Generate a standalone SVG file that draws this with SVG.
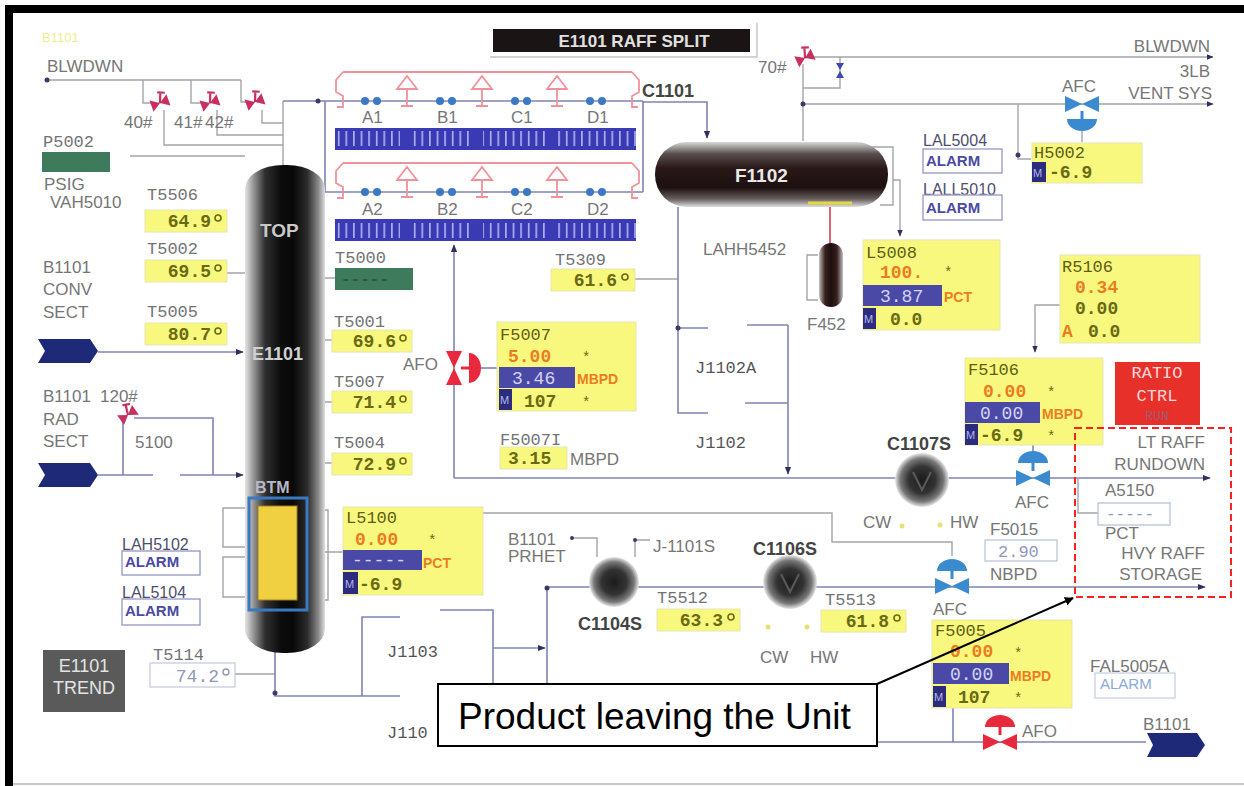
<svg xmlns="http://www.w3.org/2000/svg" width="1244" height="786" viewBox="0 0 1244 786">
<defs>
<style>
.ln{stroke:#7f84b4;stroke-width:1.6;fill:none}
.gl{stroke:#a4a4aa;stroke-width:1.4;fill:none}
.pk{stroke:#f0929c;stroke-width:1.8;fill:none}
.lbl{font-family:"Liberation Sans",Arial,sans-serif;font-size:17px;fill:#767676}
.tag{font-family:"Liberation Mono","Courier New",monospace;font-size:17px;fill:#737373}
.tg2{font-family:"Liberation Mono","Courier New",monospace;font-size:17px;fill:#5e5e14}
.val{font-family:"Liberation Mono","Courier New",monospace;font-size:18px;font-weight:bold;fill:#6a6a14}
.ov{font-family:"Liberation Mono","Courier New",monospace;font-size:18px;font-weight:bold;fill:#ec7c22}
.bv{font-family:"Liberation Mono","Courier New",monospace;font-size:18px;fill:#d4d4f4}
.un{font-family:"Liberation Sans",Arial,sans-serif;font-size:14px;font-weight:bold;fill:#ec7c22}
.st{font-family:"Liberation Mono",monospace;font-size:14px;fill:#6a6a14}
.yb{fill:#f8f87e;stroke:#e6e6b4;stroke-width:1}
.nb{fill:#4a4aa6}
.mb{fill:#2c2c7e}
.mt{font-family:"Liberation Sans",Arial,sans-serif;font-size:11px;fill:#b4b4ec}
.al{fill:#fff;stroke:#9c9cc8;stroke-width:1.4}
.alt{font-family:"Liberation Sans",Arial,sans-serif;font-size:15px;font-weight:bold;fill:#4a4aa4}
.atg{font-family:"Liberation Sans",Arial,sans-serif;font-size:16px;fill:#4e4e6e}
.dg{fill:none;stroke:#6a6a14;stroke-width:1.6}
.mot{fill:#3c78c4}
.nm{font-family:"Liberation Sans",Arial,sans-serif;font-size:18px;font-weight:bold;fill:#444}
.chev{fill:#1e2a78}
.dot{fill:#3a3a6a}
</style>
<linearGradient id="tw" x1="0" y1="0" x2="1" y2="0">
<stop offset="0" stop-color="#e6e6e6"/><stop offset="0.1" stop-color="#9a9a9a"/><stop offset="0.25" stop-color="#303030"/><stop offset="0.45" stop-color="#0c0c0c"/><stop offset="0.6" stop-color="#080808"/><stop offset="0.78" stop-color="#2c2c2c"/><stop offset="0.92" stop-color="#8c8c8c"/><stop offset="1" stop-color="#e0e0e0"/>
</linearGradient>
<linearGradient id="vs" x1="0" y1="0" x2="0" y2="1">
<stop offset="0" stop-color="#d8d8d8"/><stop offset="0.18" stop-color="#5a5050"/><stop offset="0.4" stop-color="#2a1818"/><stop offset="0.7" stop-color="#1c1010"/><stop offset="0.88" stop-color="#6a6060"/><stop offset="1" stop-color="#e0e0e0"/>
</linearGradient>
<linearGradient id="vs2" x1="0" y1="0" x2="1" y2="0">
<stop offset="0" stop-color="#c0c0c0"/><stop offset="0.25" stop-color="#3a2020"/><stop offset="0.5" stop-color="#1c0e0e"/><stop offset="0.75" stop-color="#3a2020"/><stop offset="1" stop-color="#c0c0c0"/>
</linearGradient>
<radialGradient id="cr" cx="0.5" cy="0.5" r="0.5">
<stop offset="0" stop-color="#1c1c1c"/><stop offset="0.5" stop-color="#333"/><stop offset="0.8" stop-color="#777"/><stop offset="1" stop-color="#e8e8e8"/>
</radialGradient>
<pattern id="tk" patternUnits="userSpaceOnUse" x="335" y="0" width="7.6" height="92">
<rect width="7.6" height="92" fill="#3a3ab4"/><rect x="3" y="39" width="1.4" height="15" fill="#c4c4ff"/>
</pattern>
<marker id="ar" viewBox="0 0 10 10" refX="9" refY="5" markerWidth="5" markerHeight="5" orient="auto"><path d="M0,1 L10,5 L0,9 Z" fill="#303060"/></marker>
<marker id="cb" viewBox="0 0 10 10" refX="9" refY="5" markerWidth="9" markerHeight="9" markerUnits="userSpaceOnUse" orient="auto"><path d="M0,0 L10,5 L0,10 Z" fill="#000"/></marker>
<g id="hv"><path d="M-9,-6 L9,6 L9,-6 L-9,6 Z" fill="#c8305e"/><path d="M0,0 L4,-10 M1,-11 L8,-8" stroke="#c8305e" stroke-width="2.2" fill="none"/></g>
<g id="cv"><path d="M-17,-8 L17,8 L17,-8 L-17,8 Z"/><rect x="-1.5" y="-16" width="3" height="9"/><path d="M-15,-15 A15,12 0 0 1 15,-15 Z"/></g>
</defs>

<g id="frame">
<rect x="0" y="0" width="1244" height="786" fill="#fff"/>
<rect x="5" y="5" width="1239" height="8" fill="#000"/>
<rect x="5" y="5" width="8" height="781" fill="#000"/>
<line x1="13" y1="784" x2="1244" y2="784" stroke="#c8c8c8" stroke-width="2"/>
</g>

<g id="connectors">
<path class="gl" d="M47,80 H241 M143,80 V103 H151 M191,80 V103 H201 M241,80 V102 H246 M164,110 V145 H283 M217,110 V135 H283 M262,110 V123 H283 M283,101 V166 M130,156 H245"/>
<path class="ln" d="M283,101 H643 M325,101 V192 H643 M643,101 V192 M643,102 H707 V138" marker-end="url(#ar)"/>
<path class="gl" d="M813,57 H1213" marker-end="url(#ar)"/>
<path class="gl" d="M803,104 H1213" marker-end="url(#ar)"/>
<path class="gl" d="M803,141 V64 M803,88 H840 V57"/>
<path class="gl" d="M870,147 H893 V205 H880"/>
<path class="gl" d="M893,180 H900 V236" marker-end="url(#ar)"/>
<path class="gl" d="M818,255 H807 V300 H818"/>
<path d="M830,207 V244" stroke="#d04050" stroke-width="1.6"/>
<path class="gl" d="M1018,104 V159 H1031 M1082,130 V142"/>
<path class="ln" d="M98,352 H243" marker-end="url(#ar)"/>
<path class="ln" d="M98,475 H153 M123,475 V422 M134,418 H213 V475"/>
<path class="ln" d="M180,475 H243" marker-end="url(#ar)"/>
<path class="gl" d="M227,273 H245 M325,278 H335 M325,340 H332 M325,402 H332 M325,463 H332 M235,674 H275 M635,279 H678"/>
<path class="ln" d="M454,478 V245" marker-end="url(#ar)"/>
<path class="ln" d="M497,368 H471" marker-end="url(#ar)"/>
<path class="ln" d="M454,478 H1210" marker-end="url(#ar)"/>
<path class="ln" d="M678,207 V413 H708 M678,328 H708 M747,325 H788 M745,403 H788"/>
<path class="ln" d="M788,325 V474" marker-end="url(#ar)"/>
<path class="gl" d="M1060,305 H1035 V352" marker-end="url(#ar)"/>
<path class="ln" d="M1033,445 V452"/>
<path class="gl" d="M1078,479 V513 H1098"/>
<path class="gl" d="M307,510 H328 V600 H307 M307,529 H318 M307,552 H343 M307,575 H318 M248,508 H223 V547 H248 M248,557 H223 V597 H248"/>
<path class="ln" d="M275,652 V696 H400 M362,696 V617 H400 M440,610 H493 V690"/>
<path class="ln" d="M493,648 H545" marker-end="url(#ar)"/>
<path class="ln" d="M547,588 V742 H1146 M547,587 H1205" marker-end="url(#ar)"/>
<path class="gl" d="M483,513 H832 V542 H952 V556"/>
<path class="gl" d="M572,538 H597 V557 M650,540 H635 V557"/>
<path class="ln" d="M953,708 V742"/>
<circle class="dot" cx="47" cy="80" r="2.5"/>
<circle class="dot" cx="318" cy="101" r="2.5"/>
<circle class="dot" cx="803" cy="104" r="2.5"/>
<circle class="dot" cx="1018" cy="155" r="2.5"/>
<circle class="dot" cx="678" cy="328" r="2.5"/>
<circle class="dot" cx="275" cy="693" r="2.5"/>
<circle class="dot" cx="547" cy="588" r="2.5"/>
<circle class="dot" cx="572" cy="538" r="2"/>
<circle class="dot" cx="635" cy="540" r="2"/>
</g>

<g id="title">
<path d="M490,57 H757 V23" fill="none" stroke="#c4c4c4" stroke-width="1.4"/>
<rect x="493" y="29" width="257" height="23" fill="#1a1414"/>
<text x="634" y="47" text-anchor="middle" font-family="Liberation Sans,Arial,sans-serif" font-size="17" font-weight="bold" fill="#e0e0e0">E1101 RAFF SPLIT</text>
</g>

<g id="blowdown-left">
<text x="42" y="42" font-family="Liberation Sans,Arial,sans-serif" font-size="13" fill="#f0ec90">B1101</text>
<text x="47" y="72" class="lbl" font-size="18">BLWDWN</text>
<use href="#hv" transform="translate(160,103) rotate(-20)"/>
<use href="#hv" transform="translate(210,103) rotate(-20)"/>
<use href="#hv" transform="translate(255,102) rotate(-20)"/>
<text x="124" y="128" class="lbl" font-size="15">40#</text>
<text x="174" y="128" class="lbl" font-size="15">41#</text>
<text x="205" y="128" class="lbl" font-size="15">42#</text>
</g>

<g id="P5002">
<text x="43" y="147" class="tag">P5002</text>
<rect x="42" y="152" width="68" height="20" fill="#3e7a5c"/>
<text x="44" y="190" class="lbl" font-size="16">PSIG</text>
<text x="50" y="208" class="lbl" font-size="16">VAH5010</text>
</g>

<g id="E1101-fans">
<path class="pk" d="M343,72 H632 M343,72 L336,80 V92 L343,96 V107 H337 M632,72 L639,80 V92 L632,96 V107 H638 M397,89 L407,76 L417,89 Z M407,89 V106 M401,106 H413 M472,89 L482,76 L492,89 Z M482,89 V106 M476,106 H488 M547,89 L557,76 L567,89 Z M557,89 V106 M551,106 H563"/>
<path class="pk" d="M343,163 H632 M343,163 L336,171 V183 L343,187 V198 H337 M632,163 L639,171 V183 L632,187 V198 H638 M397,180 L407,167 L417,180 Z M407,180 V197 M401,197 H413 M472,180 L482,167 L492,180 Z M482,180 V197 M476,197 H488 M547,180 L557,167 L567,180 Z M557,180 V197 M551,197 H563"/>
<g class="mot">
<circle cx="365" cy="101" r="4"/><circle cx="377" cy="101" r="4"/>
<circle cx="440" cy="101" r="4"/><circle cx="452" cy="101" r="4"/>
<circle cx="515" cy="101" r="4"/><circle cx="527" cy="101" r="4"/>
<circle cx="590" cy="101" r="4"/><circle cx="602" cy="101" r="4"/>
<circle cx="365" cy="192" r="4"/><circle cx="377" cy="192" r="4"/>
<circle cx="440" cy="192" r="4"/><circle cx="452" cy="192" r="4"/>
<circle cx="515" cy="192" r="4"/><circle cx="527" cy="192" r="4"/>
<circle cx="590" cy="192" r="4"/><circle cx="602" cy="192" r="4"/>
</g>
<g class="lbl">
<text x="362" y="123">A1</text><text x="437" y="123">B1</text><text x="511" y="123">C1</text><text x="587" y="123">D1</text>
<text x="362" y="215">A2</text><text x="437" y="215">B2</text><text x="511" y="215">C2</text><text x="587" y="215">D2</text>
</g>
<rect x="335" y="128" width="301" height="22" fill="url(#tk)"/>
<rect x="335" y="219" width="301" height="22" fill="url(#tk)"/>
<g fill="#3a3ab4">
<rect x="400" y="130" width="9" height="18"/><rect x="474" y="130" width="9" height="18"/><rect x="548" y="130" width="9" height="18"/>
<rect x="400" y="221" width="9" height="18"/><rect x="474" y="221" width="9" height="18"/><rect x="548" y="221" width="9" height="18"/>
</g>
<text x="642" y="97" class="nm">C1101</text>
</g>

<g id="E1101">
<rect x="245" y="165" width="80" height="488" rx="38" ry="24" fill="url(#tw)"/>
<text x="260" y="237" font-family="Liberation Sans,Arial,sans-serif" font-size="19" font-weight="bold" fill="#c8c8c8">TOP</text>
<text x="252" y="360" font-family="Liberation Sans,Arial,sans-serif" font-size="18" font-weight="bold" fill="#d0d0d0">E1101</text>
<text x="255" y="493" font-family="Liberation Sans,Arial,sans-serif" font-size="16" font-weight="bold" fill="#b8b8c8">BTM</text>
<rect x="249" y="498" width="58" height="112" fill="none" stroke="#3a78c0" stroke-width="3"/>
<rect x="258" y="506" width="39" height="94" fill="#f0d040" stroke="#a08020" stroke-width="1"/>
</g>

<g id="feeds">
<polygon class="chev" points="38,339 90,339 98,351 90,363 38,363 45,351"/>
<polygon class="chev" points="38,463 90,463 98,475 90,487 38,487 45,475"/>
<g class="lbl">
<text x="43" y="273">B1101</text><text x="43" y="295">CONV</text><text x="43" y="318">SECT</text>
<text x="43" y="402">B1101</text><text x="100" y="402">120#</text><text x="43" y="425">RAD</text><text x="43" y="447">SECT</text>
<text x="135" y="448">5100</text>
</g>
<use href="#hv" transform="translate(128,415) rotate(-35)"/>
</g>

<g id="T5506"><text x="147" y="200" class="tag">T5506</text><rect class="yb" x="145" y="210" width="82" height="22"/><text x="211" y="227" class="val" text-anchor="end">64.9</text><circle class="dg" cx="218" cy="218" r="3"/></g>
<g id="T5002"><text x="147" y="254" class="tag">T5002</text><rect class="yb" x="145" y="260" width="82" height="22"/><text x="211" y="277" class="val" text-anchor="end">69.5</text><circle class="dg" cx="218" cy="268" r="3"/></g>
<g id="T5005"><text x="147" y="317" class="tag">T5005</text><rect class="yb" x="145" y="323" width="82" height="22"/><text x="211" y="340" class="val" text-anchor="end">80.7</text><circle class="dg" cx="218" cy="331" r="3"/></g>
<g id="T5000"><text x="335" y="263" class="tag">T5000</text><rect x="335" y="268" width="78" height="22" fill="#3e7a5c"/><text x="341" y="284" font-family="Liberation Mono,monospace" font-size="16" font-weight="bold" fill="#2a5a40">-----</text></g>
<g id="T5001"><text x="334" y="327" class="tag">T5001</text><rect class="yb" x="332" y="330" width="80" height="22"/><text x="396" y="347" class="val" text-anchor="end">69.6</text><circle class="dg" cx="403" cy="338" r="3"/></g>
<g id="T5007"><text x="334" y="387" class="tag">T5007</text><rect class="yb" x="332" y="391" width="80" height="22"/><text x="396" y="408" class="val" text-anchor="end">71.4</text><circle class="dg" cx="403" cy="399" r="3"/></g>
<g id="T5004"><text x="334" y="448" class="tag">T5004</text><rect class="yb" x="332" y="453" width="80" height="22"/><text x="396" y="470" class="val" text-anchor="end">72.9</text><circle class="dg" cx="403" cy="461" r="3"/></g>
<g id="T5309"><text x="555" y="265" class="tag">T5309</text><rect class="yb" x="551" y="269" width="84" height="22"/><text x="617" y="286" class="val" text-anchor="end">61.6</text><circle class="dg" cx="625" cy="277" r="3"/></g>
<g id="T5512"><text x="657" y="603" class="tag">T5512</text><rect class="yb" x="657" y="609" width="83" height="22"/><text x="723" y="626" class="val" text-anchor="end">63.3</text><circle class="dg" cx="731" cy="617" r="3"/></g>
<g id="T5513"><text x="825" y="605" class="tag">T5513</text><rect class="yb" x="821" y="610" width="85" height="22"/><text x="889" y="627" class="val" text-anchor="end">61.8</text><circle class="dg" cx="897" cy="618" r="3"/></g>
<g id="T5114"><text x="153" y="660" class="tag">T5114</text><rect x="150" y="663" width="85" height="24" fill="#fff" stroke="#c4c8dc" stroke-width="1.2"/><text x="219" y="682" class="val" text-anchor="end" style="fill:#9098b8;font-weight:normal">74.2</text><circle cx="226" cy="672" r="3" fill="none" stroke="#9098b8" stroke-width="1.4"/></g>

<g id="AFO-F5007">
<use href="#cv" transform="translate(454,368) rotate(90)" fill="#e8283c"/>
<text x="403" y="370" class="lbl">AFO</text>
</g>

<g id="F5007">
<rect class="yb" x="497" y="322" width="139" height="89"/>
<text x="500" y="340" class="tg2">F5007</text>
<text x="508" y="362" class="ov">5.00</text><text x="582" y="362" class="st">*</text>
<rect class="nb" x="499" y="367" width="76" height="21"/><text x="512" y="384" class="bv">3.46</text><text x="577" y="384" class="un">MBPD</text>
<rect class="mb" x="499" y="389" width="13" height="21"/><text x="500" y="404" class="mt">M</text>
<text x="524" y="407" class="val">107</text><text x="582" y="407" class="st">*</text>
</g>

<g id="F5007I">
<text x="500" y="445" class="tag">F5007I</text>
<rect class="yb" x="500" y="447" width="67" height="22"/>
<text x="508" y="464" class="val">3.15</text>
<text x="570" y="465" class="lbl" font-size="15">MBPD</text>
</g>

<g id="F1102">
<rect x="655" y="142" width="233" height="65" rx="32" fill="url(#vs)"/>
<text x="735" y="182" font-family="Liberation Sans,Arial,sans-serif" font-size="19" font-weight="bold" fill="#e8e8e8">F1102</text>
<line x1="808" y1="203" x2="852" y2="203" stroke="#e4d840" stroke-width="3"/>
</g>

<g id="vent-top">
<use href="#hv" transform="translate(805,58) rotate(-25)"/>
<text x="758" y="73" class="lbl">70#</text>
<path d="M836,63 L844,63 L840,70 Z M836,78 L844,78 L840,71 Z" fill="#3a4ab0"/>
<text x="1210" y="52" class="lbl" text-anchor="end">BLWDWN</text>
<text x="1210" y="77" class="lbl" text-anchor="end">3LB</text>
<text x="1212" y="99" class="lbl" text-anchor="end">VENT SYS</text>
<text x="1062" y="92" class="lbl">AFC</text>
<use href="#cv" transform="translate(1082,104) scale(1,-1)" fill="#3a8ad0"/>
</g>

<g id="F452">
<text x="703" y="255" class="lbl">LAHH5452</text>
<rect x="819" y="243" width="24" height="64" rx="12" fill="url(#vs2)"/>
<text x="807" y="330" class="lbl">F452</text>
</g>

<g id="L5008">
<rect class="yb" x="863" y="240" width="137" height="90"/>
<text x="866" y="258" class="tg2">L5008</text>
<text x="880" y="278" class="ov">100.</text><text x="944" y="277" class="st">*</text>
<rect class="nb" x="863" y="285" width="79" height="21"/><text x="880" y="302" class="bv">3.87</text><text x="944" y="302" class="un">PCT</text>
<rect class="mb" x="863" y="308" width="13" height="21"/><text x="864" y="323" class="mt">M</text>
<text x="890" y="325" class="val">0.0</text>
</g>

<g id="alarms-top">
<text x="923" y="146" class="atg">LAL5004</text>
<rect class="al" x="923" y="149" width="79" height="24"/><text x="926" y="166" class="alt">ALARM</text>
<text x="923" y="195" class="atg">LALL5010</text>
<rect class="al" x="923" y="195" width="79" height="25"/><text x="926" y="213" class="alt">ALARM</text>
</g>

<g id="H5002">
<rect class="yb" x="1032" y="143" width="110" height="40"/>
<text x="1034" y="158" class="tg2">H5002</text>
<rect class="mb" x="1032" y="162" width="14" height="20"/><text x="1033" y="177" class="mt">M</text>
<text x="1049" y="178" class="val">-6.9</text>
</g>

<g id="J1102">
<text x="695" y="373" class="tag" style="fill:#555">J1102A</text>
<text x="695" y="448" class="tag" style="fill:#555">J1102</text>
</g>

<g id="R5106">
<rect class="yb" x="1060" y="255" width="140" height="88"/>
<text x="1062" y="272" class="tg2">R5106</text>
<text x="1075" y="293" class="ov">0.34</text>
<text x="1075" y="314" class="val">0.00</text>
<text x="1062" y="337" class="ov">A</text><text x="1088" y="337" class="val">0.0</text>
</g>

<g id="F5106">
<rect class="yb" x="965" y="358" width="138" height="87"/>
<text x="968" y="375" class="tg2">F5106</text>
<text x="983" y="397" class="ov">0.00</text><text x="1047" y="397" class="st">*</text>
<rect class="nb" x="965" y="402" width="75" height="21"/><text x="980" y="419" class="bv">0.00</text><text x="1042" y="419" class="un">MBPD</text>
<rect class="mb" x="965" y="424" width="13" height="21"/><text x="966" y="439" class="mt">M</text>
<text x="980" y="441" class="val">-6.9</text><text x="1047" y="441" class="st">*</text>
</g>

<g id="ratio">
<rect x="1115" y="362" width="85" height="63" fill="#e8302a"/>
<text x="1157" y="378" text-anchor="middle" font-family="Liberation Mono,monospace" font-size="17" fill="#ffd8d8">RATIO</text>
<text x="1157" y="401" text-anchor="middle" font-family="Liberation Mono,monospace" font-size="17" fill="#ffd8d8">CTRL</text>
<text x="1157" y="420" text-anchor="middle" font-family="Liberation Mono,monospace" font-size="13" fill="#a05a70">RUN</text>
</g>

<g id="AFC-F5106">
<use href="#cv" transform="translate(1033,478)" fill="#3a8ad0"/>
<text x="1015" y="508" class="lbl">AFC</text>
</g>

<g id="C1107S">
<circle cx="922" cy="480" r="27" fill="url(#cr)"/>
<path d="M913,472 L922,490 L931,472" fill="none" stroke="#5a5a5a" stroke-width="2"/>
<text x="887" y="450" class="nm">C1107S</text>
<text x="863" y="528" class="lbl">CW</text>
<text x="950" y="528" class="lbl">HW</text>
<circle cx="902" cy="526" r="2.5" fill="#e8e070"/><circle cx="940" cy="525" r="2.5" fill="#e8e070"/>
</g>

<g id="rundown-out">
<text x="1205" y="448" class="lbl" text-anchor="end">LT RAFF</text>
<text x="1205" y="470" class="lbl" text-anchor="end">RUNDOWN</text>
<text x="1105" y="496" class="lbl" font-size="16">A5150</text>
<rect x="1098" y="503" width="72" height="22" fill="#fff" stroke="#b4bcd4" stroke-width="1.2"/>
<text x="1106" y="519" font-family="Liberation Mono,monospace" font-size="16" fill="#8898c8">-----</text>
<text x="1105" y="539" class="lbl" font-size="13">PCT</text>
<text x="1205" y="559" class="lbl" text-anchor="end">HVY RAFF</text>
<text x="1202" y="580" class="lbl" text-anchor="end">STORAGE</text>
<rect x="1075" y="428" width="156" height="169" fill="none" stroke="#ff2020" stroke-width="2" stroke-dasharray="7,4"/>
</g>

<g id="F5015">
<text x="990" y="535" class="lbl">F5015</text>
<rect x="985" y="540" width="72" height="21" fill="#fff" stroke="#b8c0d8" stroke-width="1.2"/>
<text x="998" y="557" font-family="Liberation Mono,monospace" font-size="17" fill="#9098c0">2.90</text>
<text x="990" y="580" class="lbl" font-size="15">NBPD</text>
<use href="#cv" transform="translate(952,586)" fill="#3a8ad0"/>
<text x="933" y="615" class="lbl">AFC</text>
</g>

<g id="F5005">
<rect class="yb" x="932" y="620" width="140" height="88"/>
<text x="935" y="636" class="tg2">F5005</text>
<text x="950" y="657" class="ov">0.00</text><text x="1014" y="658" class="st">*</text>
<rect class="nb" x="933" y="663" width="76" height="21"/><text x="950" y="680" class="bv">0.00</text><text x="1010" y="681" class="un">MBPD</text>
<rect class="mb" x="933" y="686" width="13" height="21"/><text x="934" y="701" class="mt">M</text>
<text x="958" y="703" class="val">107</text><text x="1014" y="703" class="st">*</text>
</g>

<g id="AFO-F5005">
<use href="#cv" transform="translate(1000,742)" fill="#e8283c"/>
<text x="1022" y="737" class="lbl">AFO</text>
</g>

<g id="FAL5005A">
<text x="1090" y="672" class="lbl">FAL5005A</text>
<rect x="1095" y="673" width="80" height="25" fill="#fff" stroke="#c4cce2" stroke-width="1.2"/>
<text x="1100" y="689" font-family="Liberation Sans,Arial,sans-serif" font-size="15" fill="#8aa8d8">ALARM</text>
</g>

<g id="B1101-out">
<text x="1143" y="730" class="lbl">B1101</text>
<polygon class="chev" points="1147,733 1197,733 1205,745 1197,757 1147,757 1153,745"/>
</g>

<g id="L5100">
<rect class="yb" x="343" y="507" width="140" height="88"/>
<text x="346" y="523" class="tg2">L5100</text>
<text x="355" y="545" class="ov">0.00</text><text x="428" y="545" class="st">*</text>
<rect class="nb" x="343" y="550" width="79" height="20"/><text x="352" y="566" class="bv">-----</text><text x="423" y="568" class="un">PCT</text>
<rect class="mb" x="343" y="572" width="15" height="22"/><text x="345" y="588" class="mt">M</text>
<text x="359" y="590" class="val">-6.9</text>
</g>

<g id="alarms-btm">
<text x="122" y="550" class="atg">LAH5102</text>
<rect class="al" x="122" y="551" width="78" height="24"/><text x="125" y="567" class="alt">ALARM</text>
<text x="122" y="598" class="atg">LAL5104</text>
<rect class="al" x="122" y="599" width="78" height="26"/><text x="125" y="616" class="alt">ALARM</text>
</g>

<g id="trend">
<rect x="43" y="650" width="82" height="62" fill="#5a5a5a"/>
<text x="84" y="672" text-anchor="middle" font-family="Liberation Sans,Arial,sans-serif" font-size="18" fill="#e4e4e4">E1101</text>
<text x="84" y="694" text-anchor="middle" font-family="Liberation Sans,Arial,sans-serif" font-size="18" fill="#e4e4e4">TREND</text>
</g>

<g id="J1103">
<text x="387" y="657" class="tag" style="fill:#555">J1103</text>
<text x="387" y="738" class="tag" style="fill:#555">J110</text>
</g>

<g id="C1104S">
<circle cx="614" cy="582" r="25" fill="url(#cr)"/>
<text x="508" y="545" class="lbl">B1101</text>
<text x="508" y="562" class="lbl">PRHET</text>
<text x="653" y="552" class="lbl">J-1101S</text>
<text x="578" y="630" class="nm">C1104S</text>
</g>

<g id="C1106S">
<circle cx="790" cy="582" r="27" fill="url(#cr)"/>
<path d="M781,574 L790,592 L799,574" fill="none" stroke="#5a5a5a" stroke-width="2"/>
<text x="753" y="555" class="nm">C1106S</text>
<text x="760" y="663" class="lbl">CW</text>
<text x="810" y="663" class="lbl">HW</text>
<circle cx="768" cy="627" r="2.5" fill="#e8e070"/><circle cx="807" cy="627" r="2.5" fill="#e8e070"/>
</g>

<g id="callout">
<line x1="877" y1="684" x2="1073" y2="598" stroke="#000" stroke-width="2" marker-end="url(#cb)"/>
<rect x="438" y="684" width="439" height="62" fill="#fff" stroke="#000" stroke-width="2"/>
<text x="458" y="729" font-family="Liberation Sans,Arial,sans-serif" font-size="37" fill="#000">Product leaving the Unit</text>
</g>
</svg>
